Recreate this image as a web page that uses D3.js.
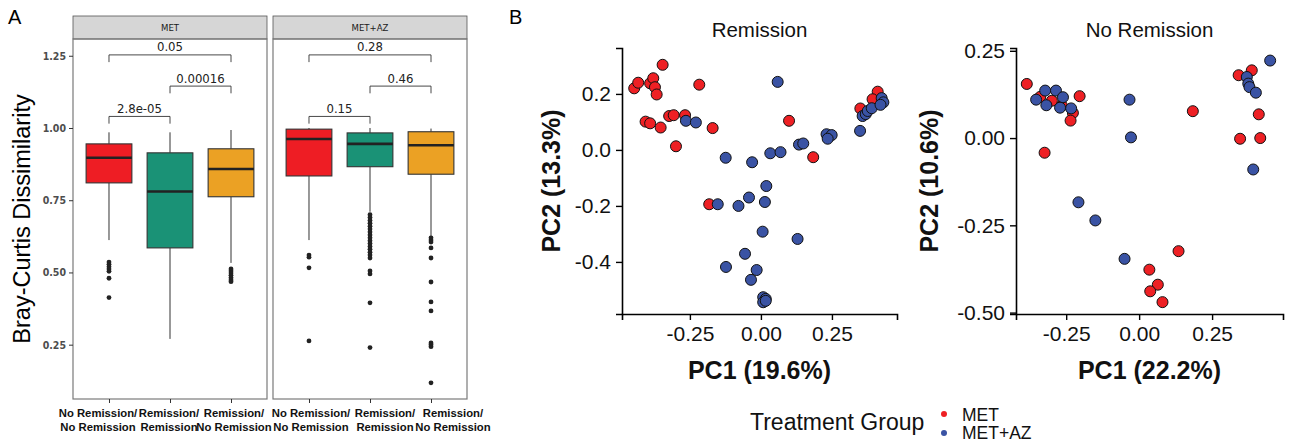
<!DOCTYPE html>
<html><head><meta charset="utf-8">
<script src="https://cdn.jsdelivr.net/npm/d3@7"></script>
<style>body{margin:0;background:#fff} svg{display:block}</style>
</head><body>
<svg id="c" width="1289" height="448"></svg>
<script>
// ---------- Panel A data ----------
const categories = [["No Remission/","No Remission"],["Remission/","Remission"],["Remission/","No Remission"]];
const facets = ["MET","MET+AZ"];
const boxColors = ["#EE1D24","#1A9276","#EBA124"];
const metLower   = [0.612, 0.27, 0.533];
const metQ1      = [0.81, 0.585, 0.762];
const metMedian  = [0.897, 0.78, 0.858];
const metQ3      = [0.945, 0.914, 0.928];
const metUpper   = [0.985, 0.985, 0.993];
const metOutliers = [[0.536,0.528,0.52,0.512,0.504,0.48,0.413],[],[0.512,0.505,0.498,0.49,0.482,0.474,0.468]];
const azLower    = [0.612, 0.71, 0.623];
const azQ1       = [0.834, 0.866, 0.84];
const azMedian   = [0.962, 0.945, 0.94];
const azQ3       = [0.996, 0.983, 0.987];
const azUpper    = [1.0, 1.0, 0.998];
const azOutliers = [[0.56,0.553,0.516,0.263],
  [0.70,0.69,0.68,0.67,0.66,0.65,0.64,0.63,0.62,0.61,0.60,0.59,0.58,0.57,0.56,0.55,0.505,0.495,0.395,0.24],
  [0.62,0.612,0.605,0.585,0.55,0.467,0.398,0.367,0.256,0.25,0.243,0.118]];
const metP = ["2.8e-05","0.00016","0.05"];
const azP  = ["0.15","0.46","0.28"];
const bracketPairs = [[0,1],[1,2],[0,2]];
const bracketLevels = [1.04, 1.145, 1.253];
const yTicksA = [0.25, 0.50, 0.75, 1.00, 1.25];

// ---------- Panel B data ----------
const groups = ["MET","MET+AZ"];
const groupColors = ["#EE2024","#3A53A4"];
const remMetPC1 = [-0.446,-0.432,-0.390,-0.379,-0.373,-0.367,-0.346,-0.217,-0.406,-0.390,-0.353,-0.323,-0.307,-0.267,-0.299,-0.170,-0.182,0.099,0.184,0.411,0.393,0.350];
const remMetPC2 = [0.220,0.240,0.238,0.256,0.224,0.198,0.304,0.233,0.101,0.095,0.080,0.121,0.124,0.124,0.013,0.078,-0.194,0.104,-0.026,0.208,0.181,0.148];
const remAzPC1 = [-0.264,-0.229,-0.152,0.059,-0.124,-0.031,0.033,0.069,0.134,0.149,0.231,0.249,0.235,0.349,0.358,0.369,0.376,0.390,0.425,0.431,0.421,-0.079,-0.042,0.014,0.019,0.006,0.129,-0.056,-0.123,-0.015,-0.035,0.008,0.017,0.008,0.017];
const remAzPC2 = [0.104,0.098,-0.194,0.243,-0.028,-0.044,-0.012,-0.008,0.019,0.023,0.056,0.053,0.040,0.068,0.121,0.128,0.139,0.149,0.185,0.170,0.161,-0.200,-0.170,-0.186,-0.129,-0.292,-0.318,-0.371,-0.418,-0.429,-0.464,-0.526,-0.532,-0.544,-0.539];
const noRemMetPC1 = [-0.385,-0.339,-0.299,-0.265,-0.227,-0.235,-0.204,-0.324,0.341,0.386,0.184,0.410,0.346,0.415,0.135,0.035,0.064,0.038,0.080];
const noRemMetPC2 = [0.155,0.118,0.107,0.093,0.072,0.050,0.120,-0.042,0.180,0.194,0.077,0.068,-0.002,0.000,-0.324,-0.377,-0.420,-0.439,-0.470];
const noRemAzPC1 = [-0.353,-0.322,-0.285,-0.261,-0.318,-0.271,-0.233,-0.208,-0.150,0.449,0.369,0.374,0.378,0.400,-0.033,-0.028,0.391,-0.050];
const noRemAzPC2 = [0.110,0.136,0.136,0.117,0.094,0.087,0.085,-0.184,-0.236,0.222,0.175,0.156,0.146,0.130,0.110,0.002,-0.090,-0.346];
const remXTicks = [-0.25, 0, 0.25];
const remYTicks = [-0.4, -0.2, 0, 0.2];
const noRemXTicks = [-0.25, 0, 0.25];
const noRemYTicks = [-0.5, -0.25, 0, 0.25];

const svg = d3.select("#c");
const narrow = "'Liberation Sans Narrow','Arial Narrow','DejaVu Sans Condensed',sans-serif";
const sans = "'Liberation Sans',Arial,Helvetica,sans-serif";

// ================= PANEL A =================
svg.append("text").attr("x",8).attr("y",24).attr("font-family",sans).attr("font-size",20).text("A");
svg.append("text").attr("x",509).attr("y",24).attr("font-family",sans).attr("font-size",20).text("B");

const yA = d3.scaleLinear().domain([0.062,1.308]).range([399,39]);
const facetLeft = [73, 273], facetW = 194;
// horizontal nudge of the category labels (as placed in the original figure)
const labelNudge = [[-11,-1,3],[2,15,22]];
const facetData = [
  {lower:metLower,q1:metQ1,med:metMedian,q3:metQ3,upper:metUpper,out:metOutliers,p:metP},
  {lower:azLower,q1:azQ1,med:azMedian,q3:azQ3,upper:azUpper,out:azOutliers,p:azP}
];

svg.append("text")
  .attr("transform","translate(30,219) rotate(-90)")
  .attr("text-anchor","middle").attr("font-family",sans).attr("font-size",23.5)
  .text("Bray-Curtis Dissimilarity");

facetData.forEach((fd,f)=>{
  const g = svg.append("g").attr("transform",`translate(${facetLeft[f]},0)`);
  const xA = d3.scalePoint().domain(d3.range(categories.length)).range([0,facetW]).padding(0.59);
  const bw = xA.step()*0.75;
  // strip
  g.append("rect").attr("x",0).attr("y",16).attr("width",facetW).attr("height",23)
    .attr("fill","#D6D6D6").attr("stroke","#555").attr("stroke-width",0.8);
  g.append("text").attr("x",facetW/2).attr("y",31).attr("text-anchor","middle")
    .attr("font-family",narrow).attr("font-size",9.5).attr("fill","#1a1a1a").text(facets[f]);
  // panel
  g.append("rect").attr("x",0).attr("y",39).attr("width",facetW).attr("height",360)
    .attr("fill","none").attr("stroke","#7a7a7a").attr("stroke-width",1.2);
  // brackets
  bracketPairs.forEach((pr,i)=>{
    const x1 = xA(pr[0]), x2 = xA(pr[1]), y = yA(bracketLevels[i]), y2 = yA(bracketLevels[i]-0.025);
    g.append("path").attr("d",`M${x1},${y2}V${y}H${x2}V${y2}`).attr("fill","none")
      .attr("stroke","#333").attr("stroke-width",0.9);
    g.append("text").attr("x",(x1+x2)/2).attr("y",y-3.5).attr("text-anchor","middle")
      .attr("font-family",narrow).attr("font-size",13).attr("fill","#222").text(fd.p[i]);
  });
  // boxes
  categories.forEach((c,i)=>{
    const cx = xA(i);
    g.append("line").attr("x1",cx).attr("x2",cx).attr("y1",yA(fd.upper[i])).attr("y2",yA(fd.q3[i])).attr("stroke","#333").attr("stroke-width",1);
    g.append("line").attr("x1",cx).attr("x2",cx).attr("y1",yA(fd.q1[i])).attr("y2",yA(fd.lower[i])).attr("stroke","#333").attr("stroke-width",1);
    g.append("rect").attr("x",cx-bw/2).attr("y",yA(fd.q3[i])).attr("width",bw)
      .attr("height",yA(fd.q1[i])-yA(fd.q3[i])).attr("fill",boxColors[i]).attr("stroke","#333").attr("stroke-width",1.1);
    g.append("line").attr("x1",cx-bw/2).attr("x2",cx+bw/2).attr("y1",yA(fd.med[i])).attr("y2",yA(fd.med[i]))
      .attr("stroke","#222").attr("stroke-width",2.6);
    g.selectAll(null).data(fd.out[i]).enter().append("circle")
      .attr("cx",cx).attr("cy",d=>yA(d)).attr("r",2.4).attr("fill","#222");
  });
  // x axis
  const ax = g.append("g").attr("transform","translate(0,399)")
    .call(d3.axisBottom(xA).tickSize(4).tickFormat(""));
  ax.select(".domain").remove();
  ax.selectAll(".tick line").attr("stroke","#333");
  categories.forEach((c,i)=>{
    const lx = xA(i) + labelNudge[f][i];
    const t = g.append("text").attr("text-anchor","middle").attr("font-family",sans)
      .attr("font-weight","bold").attr("font-size",11.3).attr("fill","#111");
    t.append("tspan").attr("x",lx).attr("y",417).attr("textLength",null).text(c[0]);
    t.append("tspan").attr("x",lx).attr("y",430.5).text(c[1]);
  });
});
// y axis panel A
const ayA = svg.append("g").attr("transform",`translate(${facetLeft[0]},0)`)
  .call(d3.axisLeft(yA).tickValues(yTicksA).tickSize(4).tickFormat(d3.format(".2f")));
ayA.select(".domain").remove();
ayA.selectAll(".tick line").attr("stroke","#333");
ayA.selectAll(".tick text").attr("font-family",narrow).attr("font-weight","bold")
  .attr("font-size",10.5).attr("fill","#4d4d4d");

// ================= PANEL B =================
const fmtMinus = f => d => d3.format(f)(d).replace("\u2212","-");
function scatter(opts){
  const {x0,x1,y0,y1,xdom,ydom,xticks,yticks,xfmt,yfmt,title,xlab,ylab,ylabX,mx,my} = opts;
  const x = d3.scaleLinear().domain(xdom).range([x0,x1]);
  const y = d3.scaleLinear().domain(ydom).range([y1,y0]);
  const g = svg.append("g");
  const xa = g.append("g").attr("transform",`translate(0,${y1})`)
    .call(d3.axisBottom(x).tickValues(xticks).tickSize(6).tickPadding(6).tickFormat(fmtMinus(xfmt)));
  const ya = g.append("g").attr("transform",`translate(${x0},0)`)
    .call(d3.axisLeft(y).tickValues(yticks).tickSize(6).tickPadding(5).tickFormat(fmtMinus(yfmt)));
  [xa,ya].forEach(a=>{
    a.select(".domain").attr("stroke","#000").attr("stroke-width",1.6);
    a.selectAll(".tick line").attr("stroke","#000").attr("stroke-width",1.4);
    a.selectAll(".tick text").attr("font-family",sans).attr("font-size",21).attr("fill","#111");
  });
  const sets = [[mx[0],my[0],0],[mx[1],my[1],1]];
  sets.forEach(([xs,ys,gi])=>{
    g.selectAll(null).data(xs.map((v,i)=>[v,ys[i]])).enter().append("circle")
      .attr("cx",d=>x(d[0])).attr("cy",d=>y(d[1])).attr("r",5.5)
      .attr("fill",groupColors[gi]).attr("stroke","#111").attr("stroke-width",1);
  });
  g.append("text").attr("x",(x0+x1)/2).attr("y",37).attr("text-anchor","middle")
    .attr("font-family",sans).attr("font-size",20.5).attr("fill","#111").text(title);
  g.append("text").attr("x",(x0+x1)/2).attr("y",379).attr("text-anchor","middle")
    .attr("font-family",sans).attr("font-weight","bold").attr("font-size",25).attr("fill","#111").text(xlab);
  g.append("text").attr("transform",`translate(${ylabX},${(y0+y1)/2}) rotate(-90)`).attr("text-anchor","middle")
    .attr("font-family",sans).attr("font-weight","bold").attr("font-size",25).attr("fill","#111").text(ylab);
}
scatter({x0:622,x1:897,y0:48,y1:314,xdom:[-0.489,0.479],ydom:[-0.586,0.364],
  xticks:remXTicks,yticks:remYTicks,xfmt:".2f",yfmt:".1f",title:"Remission",
  xlab:"PC1 (19.6%)",ylab:"PC2 (13.3%)",ylabX:560,
  mx:[remMetPC1,remAzPC1],my:[remMetPC2,remAzPC2]});
scatter({x0:1016,x1:1283,y0:48,y1:314,xdom:[-0.422,0.493],ydom:[-0.504,0.258],
  xticks:noRemXTicks,yticks:noRemYTicks,xfmt:".2f",yfmt:".2f",title:"No Remission",
  xlab:"PC1 (22.2%)",ylab:"PC2 (10.6%)",ylabX:938,
  mx:[noRemMetPC1,noRemAzPC1],my:[noRemMetPC2,noRemAzPC2]});

// legend
const lg = svg.append("g");
lg.append("text").attr("x",750).attr("y",430).attr("font-family",sans).attr("font-size",23).attr("fill","#111").text("Treatment Group");
groups.forEach((gname,i)=>{
  lg.append("circle").attr("cx",944).attr("cy",414+i*19).attr("r",3).attr("fill",groupColors[i]);
  lg.append("text").attr("x",962).attr("y",421+i*18).attr("font-family",sans).attr("font-size",17.5).attr("fill","#111").text(gname);
});
</script>
</body></html>
